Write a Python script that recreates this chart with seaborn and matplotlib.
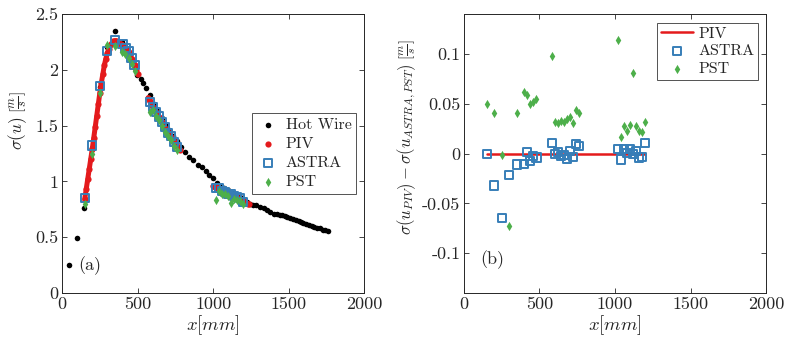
import numpy as np
import pandas as pd
import matplotlib
matplotlib.use("Agg")
import matplotlib.pyplot as plt
import matplotlib.ticker as mticker
import seaborn as sns

# ---------------- data ----------------
hw_x = [48, 97, 148, 200, 252, 300, 351, 400, 450, 499, 523, 539, 556, 583, 610, 635, 660, 685,
        710, 735, 760, 785, 815, 843, 870, 903, 925, 950, 975, 1000, 1025, 1050, 1075, 1100, 1125,
        1150, 1175, 1200, 1225, 1245, 1265, 1285, 1311, 1335, 1355, 1377, 1400, 1422, 1440, 1455,
        1475, 1490, 1510, 1530, 1550, 1565, 1580, 1598, 1615, 1635, 1654, 1670, 1690, 1709, 1725,
        1740, 1757]
hw_sigma = [0.25, 0.49, 0.76, 1.30, 1.85, 2.20, 2.35, 2.25, 2.14, 1.95, 1.92, 1.88, 1.84, 1.77,
            1.69, 1.63, 1.57, 1.51, 1.46, 1.41, 1.36, 1.31, 1.266, 1.22, 1.19, 1.147, 1.126, 1.09,
            1.06, 1.03, 0.99, 0.96, 0.94, 0.92, 0.90, 0.88, 0.86, 0.84, 0.815, 0.797, 0.79, 0.785,
            0.773, 0.76, 0.745, 0.729, 0.71, 0.708, 0.70, 0.699, 0.69, 0.68, 0.669, 0.665, 0.655,
            0.648, 0.635, 0.624, 0.62, 0.61, 0.600, 0.59, 0.585, 0.58, 0.57, 0.565, 0.558]

piv_x = [150, 160, 170, 180, 190, 200, 210, 220, 230, 240, 250, 260, 270, 280, 290, 300, 310, 320,
         330, 340, 350, 360, 370, 380, 390, 400, 410, 420, 430, 440, 450, 460, 470, 480, 490, 500,
         570, 580, 590, 600, 610, 620, 630, 640, 650, 660, 670, 680, 690, 700, 710, 720, 730, 740,
         750, 760, 770, 780,
         1000, 1010, 1020, 1030, 1040, 1050, 1060, 1070, 1080, 1090, 1100, 1110, 1120, 1130, 1140,
         1150, 1160, 1170, 1180, 1190, 1200, 1210, 1220, 1230, 1240]
piv_sigma = [0.84, 0.93, 1.02, 1.11, 1.20, 1.29, 1.39, 1.49, 1.59, 1.69, 1.79, 1.88, 1.96, 2.04,
             2.10, 2.15, 2.19, 2.22, 2.24, 2.255, 2.26, 2.26, 2.25, 2.24, 2.23, 2.22, 2.21, 2.20,
             2.18, 2.16, 2.13, 2.10, 2.07, 2.04, 2.00, 1.96,
             1.75, 1.72, 1.695, 1.67, 1.645, 1.62, 1.60, 1.58, 1.555, 1.53, 1.505, 1.48, 1.46,
             1.44, 1.42, 1.40, 1.38, 1.36, 1.34, 1.32, 1.30, 1.28,
             0.96, 0.955, 0.95, 0.94, 0.935, 0.93, 0.92, 0.915, 0.91, 0.90, 0.895, 0.89, 0.885,
             0.875, 0.87, 0.86, 0.855, 0.85, 0.845, 0.835, 0.83, 0.82, 0.81, 0.80, 0.795]

# comparison stations
st_x = [150, 200, 250, 300, 350, 400, 420, 440, 460, 480, 580, 600, 620, 640, 660, 680, 700, 720,
        740, 760, 1020, 1040, 1060, 1080, 1100, 1120, 1140, 1160, 1180, 1200]
piv_at_st = [0.85, 1.29, 1.79, 2.15, 2.256, 2.22, 2.20, 2.16, 2.10, 2.04, 1.72, 1.67, 1.62, 1.58,
             1.53, 1.48, 1.44, 1.40, 1.36, 1.32, 0.95, 0.935, 0.92, 0.91, 0.895, 0.885, 0.87,
             0.855, 0.845, 0.83]
diff_astra = [0.0, -0.032, -0.065, -0.0215, -0.011, -0.0104, 0.002, -0.0074, -0.0023, -0.004,
              0.011, -0.0007, 0.0017, -0.002, -0.0013, -0.0054, 0.003, -0.0034, 0.0097, 0.0077,
              0.0047, -0.006, 0.0047, 0.0003, 0.0047, -0.0007, 0.003, -0.004, -0.0034, 0.011]
diff_pst = [0.050, 0.0406, -0.001, -0.0728, 0.0406, 0.0614, 0.059, 0.050, 0.052, 0.0547,
            0.0977, 0.032, 0.031, 0.033, 0.032, 0.0346, 0.037, 0.031, 0.044, 0.041,
            0.1134, 0.017, 0.028, 0.023, 0.0289, 0.0809, 0.028, 0.023, 0.022, 0.032]

astra_sigma = [p - d for p, d in zip(piv_at_st, diff_astra)]
pst_sigma = [p - d for p, d in zip(piv_at_st, diff_pst)]
piv_line_x = [150, 1200]
piv_line_y = [0.0, 0.0]

RED = "#e41a1c"
BLUE = "#377eb8"
GREEN = "#4daf4a"

# PIV measurement windows (split where the x gap is large)
piv_df = pd.DataFrame({"x": piv_x, "sigma": piv_sigma})
piv_df["window"] = (piv_df["x"].diff().fillna(0) > 40).cumsum()

# ---------------- style ----------------
sns.set_style("ticks")
plt.rcParams.update({
    "font.family": "serif",
    "font.serif": ["cmr10", "DejaVu Serif"],
    "mathtext.fontset": "cm",
    "axes.unicode_minus": False,
    "axes.formatter.use_mathtext": False,
    "font.size": 13,
    "axes.linewidth": 0.7,
    "axes.edgecolor": "#262626",
    "xtick.direction": "in",
    "ytick.direction": "in",
    "xtick.top": True,
    "ytick.right": True,
    "xtick.major.size": 3.5,
    "ytick.major.size": 3.5,
    "xtick.major.width": 0.6,
    "ytick.major.width": 0.6,
    "xtick.major.pad": 2.5,
    "ytick.major.pad": 2.5,
    "xtick.labelsize": 13,
    "ytick.labelsize": 13,
})

fig = plt.figure(figsize=(7.85, 3.49), dpi=100)
axA = fig.add_axes([0.079, 0.160, 0.385, 0.800])
axB = fig.add_axes([0.591, 0.160, 0.385, 0.800])

fmt = mticker.FuncFormatter(lambda v, p: "%g" % round(v, 6))

# ---- panel (a) ----
sns.scatterplot(x=hw_x, y=hw_sigma, ax=axA, color="black", marker="o", s=16,
                linewidth=0, label="Hot Wire", zorder=2)
sns.lineplot(data=piv_df, x="x", y="sigma", units="window", estimator=None, ax=axA,
             color=RED, linewidth=3.6, legend=False, zorder=3)
sns.scatterplot(x=piv_x, y=piv_sigma, ax=axA, color=RED, marker="o", s=20,
                linewidth=0, label="PIV", zorder=3)
sns.scatterplot(x=st_x, y=astra_sigma, ax=axA, marker="s", s=34, facecolor="none",
                edgecolor=BLUE, linewidth=1.4, label="ASTRA", zorder=4)
sns.scatterplot(x=st_x, y=pst_sigma, ax=axA, color=GREEN, marker="d", s=22,
                linewidth=0, label="PST", zorder=5)
axA.set_xlim(0, 2000)
axA.set_ylim(0, 2.5)
axA.set_xticks([0, 500, 1000, 1500, 2000])
axA.set_yticks([0, 0.5, 1, 1.5, 2, 2.5])
axA.xaxis.set_major_formatter(fmt)
axA.yaxis.set_major_formatter(fmt)
axA.set_xlabel(r"$x[mm]$", fontsize=13.5, labelpad=1)
axA.set_ylabel(r"$\sigma(u)\;\left[\frac{m}{s}\right]$", fontsize=12.5, labelpad=2)
axA.yaxis.set_label_coords(-0.11, 0.62)
axA.text(106, 0.25, "(a)", fontsize=13, va="center", ha="left")
legA = axA.legend(loc="upper right", bbox_to_anchor=(0.974, 0.645), borderaxespad=0,
                  frameon=True, fancybox=False, edgecolor="#262626", fontsize=11.5,
                  handletextpad=0.4, labelspacing=0.3, borderpad=0.3, handlelength=1.4)
legA.get_frame().set_linewidth(0.7)

# ---- panel (b) ----
sns.lineplot(x=piv_line_x, y=piv_line_y, ax=axB, color=RED, linewidth=1.8, label="PIV", zorder=2)
sns.scatterplot(x=st_x, y=diff_astra, ax=axB, marker="s", s=34, facecolor="none",
                edgecolor=BLUE, linewidth=1.4, label="ASTRA", zorder=3)
sns.scatterplot(x=st_x, y=diff_pst, ax=axB, color=GREEN, marker="d", s=22,
                linewidth=0, label="PST", zorder=4)
axB.set_xlim(0, 2000)
axB.set_ylim(-0.14, 0.14)
axB.set_xticks([0, 500, 1000, 1500, 2000])
axB.set_yticks([-0.1, -0.05, 0, 0.05, 0.1])
axB.xaxis.set_major_formatter(fmt)
axB.yaxis.set_major_formatter(fmt)
axB.set_xlabel(r"$x[mm]$", fontsize=13.5, labelpad=1)
axB.set_ylabel(r"$\sigma(u_{PIV})-\sigma(u_{ASTRA,PST})\;\left[\frac{m}{s}\right]$",
               fontsize=12, labelpad=2)
axB.yaxis.set_label_coords(-0.152, 0.56)
axB.text(106, -0.1065, "(b)", fontsize=13, va="center", ha="left")
legB = axB.legend(loc="upper right", bbox_to_anchor=(0.974, 0.968), borderaxespad=0,
                  frameon=True, fancybox=False, edgecolor="#262626", fontsize=11.5,
                  handletextpad=0.3, labelspacing=0.2, borderpad=0.25, handlelength=2.0)
legB.get_frame().set_linewidth(0.7)

for ax in (axA, axB):
    for sp in ax.spines.values():
        sp.set_visible(True)

fig.savefig("out.png", dpi=100)
